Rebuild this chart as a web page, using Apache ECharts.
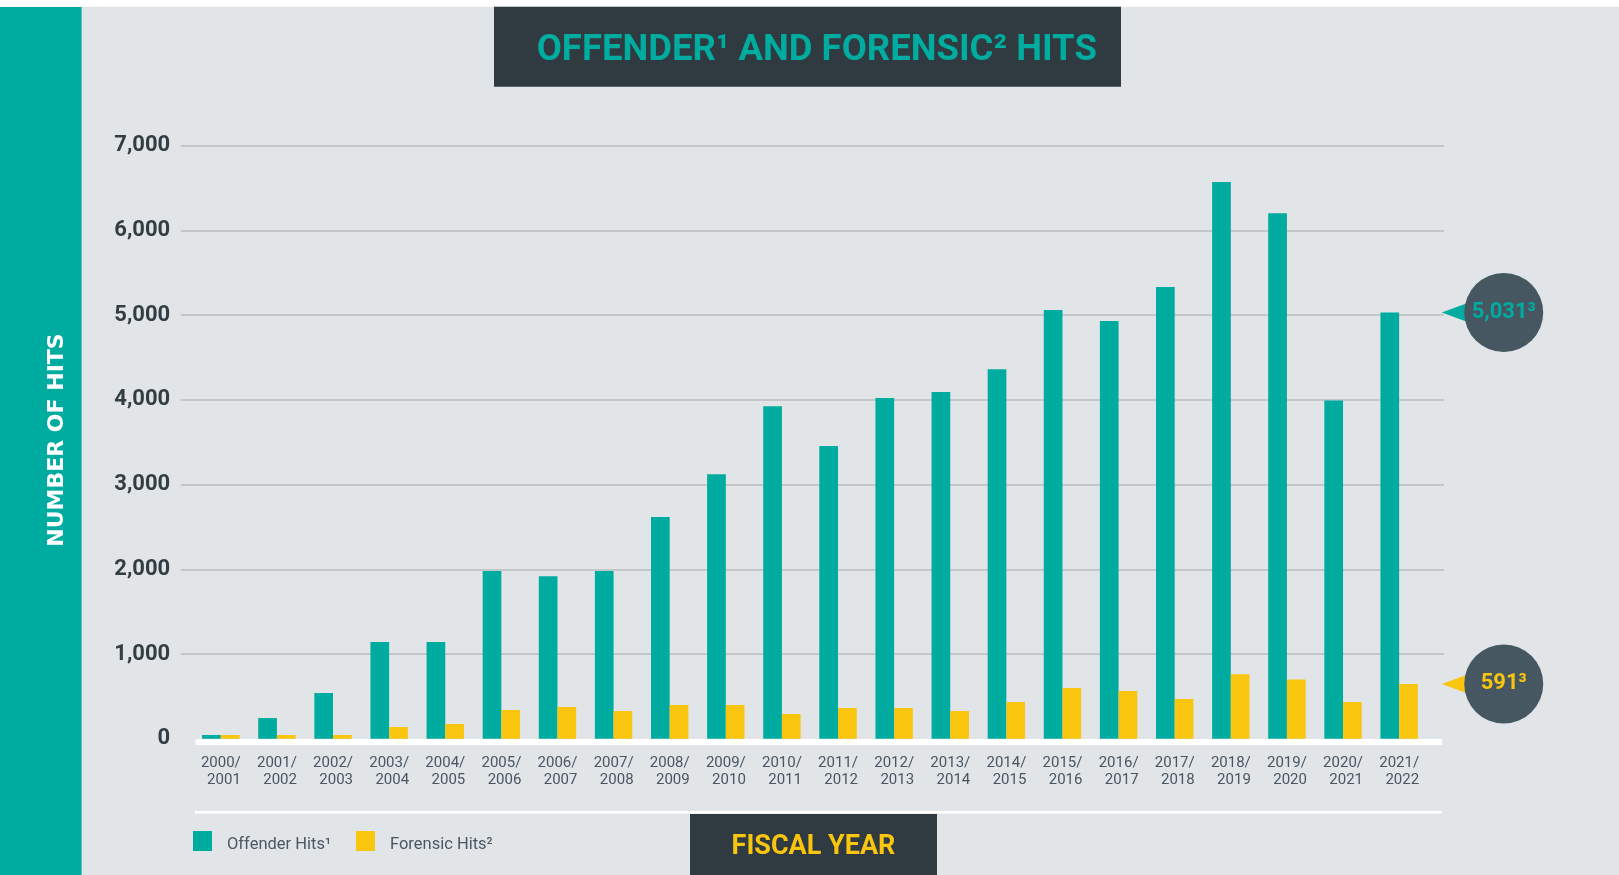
<!DOCTYPE html>
<html>
<head>
<meta charset="utf-8">
<script src="https://cdn.jsdelivr.net/npm/echarts@6/dist/echarts.min.js"></script>
<style>
html,body{margin:0;padding:0;background:#ffffff;}
#chart{width:1619px;height:875px;}
</style>
</head>
<body>
<div id="chart"></div>
<script>
// ---- data ----
const categories = ['2000/2001','2001/2002','2002/2003','2003/2004','2004/2005','2005/2006','2006/2007','2007/2008','2008/2009','2009/2010','2010/2011','2011/2012','2012/2013','2013/2014','2014/2015','2015/2016','2016/2017','2017/2018','2018/2019','2019/2020','2020/2021','2021/2022'];
const offenderHits = [45, 245, 540, 1142, 1142, 1980, 1918, 1980, 2618, 3122, 3924, 3456, 4022, 4093, 4361, 5061, 4931, 5332, 6571, 6202, 3992, 5031];
const forensicHits = [45, 45, 45, 139, 175, 340, 375, 328, 399, 399, 293, 363, 363, 328, 434, 600, 564, 470, 762, 701, 434, 647];
const yTickValues = [0, 1000, 2000, 3000, 4000, 5000, 6000, 7000];
const seriesNames = ['Offender Hits¹', 'Forensic Hits²'];
const calloutLabels = ['5,031³', '591³'];
const titleText = 'OFFENDER¹ AND FORENSIC² HITS';
const yAxisTitle = 'NUMBER OF HITS';
const xAxisTitle = 'FISCAL YEAR';

// ---- styles ----
const TEAL = '#00ab9f';
const YELLOW = '#f9c50f';
const DARK = '#2f3a41';
const BUBBLE = '#465762';
const BG = '#e1e5e8';
const GRID_TOP = 145.7;
const GRID_BOTTOM = 875 - 738.8;
const lastIdx = categories.length - 1;

const chart = echarts.init(document.getElementById('chart'), null, {renderer: 'canvas'});

const option = {
  backgroundColor: BG,
  animation: false,
  title: {
    text: titleText,
    left: 816.8,
    top: 32,
    padding: 0,
    textAlign: 'center',
    textStyle: {color: TEAL, fontFamily: 'Roboto', fontWeight: 'bold', fontSize: 36.5}
  },
  legend: {
    left: 193,
    top: 831,
    padding: 0,
    icon: 'rect',
    itemWidth: 19,
    itemHeight: 20,
    itemGap: 25,
    data: seriesNames,
    formatter: function (name) { return '{a|' + name + '}'; },
    textStyle: {
      fontFamily: 'Roboto', fontSize: 16.5, color: '#4b5763', padding: [0, 0, 0, 10],
      rich: {a: {fontFamily: 'Roboto', fontSize: 16.5, color: '#4b5763', padding: [8, 0, 0, 0]}}
    }
  },
  grid: [
    {left: 180.7, right: 175, top: GRID_TOP, bottom: GRID_BOTTOM},
    {left: 192.75, right: 191.8, top: GRID_TOP, bottom: GRID_BOTTOM}
  ],
  xAxis: [
    {gridIndex: 0, type: 'value', min: 0, max: 1, show: false},
    {
      gridIndex: 1, type: 'category', data: categories,
      axisLine: {show: false}, axisTick: {show: false}, splitLine: {show: false},
      axisLabel: {
        margin: 16,
        interval: 0,
        formatter: function (v) {
          const p = v.split('/');
          return '{a|' + p[0] + '/}\n{a|' + p[1] + '}';
        },
        rich: {
          a: {width: 40, align: 'right', fontFamily: 'Roboto', fontSize: 15, lineHeight: 17, color: '#4a5662'}
        }
      }
    }
  ],
  yAxis: [
    {
      gridIndex: 0, type: 'value', min: 0, max: 7000, interval: 1000,
      axisLine: {show: false}, axisTick: {show: false},
      splitLine: {lineStyle: {width: 1.5, color: ['rgba(0,0,0,0)', '#b9bcc0', '#b9bcc0', '#b9bcc0', '#b9bcc0', '#b9bcc0', '#b9bcc0', '#b9bcc0']}},
      axisLabel: {
        margin: 10.5,
        fontFamily: 'Roboto', fontWeight: 'bold', fontSize: 22, color: '#333d44',
        formatter: function (v) { return yTickValues.indexOf(v) >= 0 ? v.toLocaleString('en-US') : ''; }
      }
    },
    {gridIndex: 1, type: 'value', min: 0, max: 7000, interval: 1000, show: false}
  ],
  series: [
    {
      name: seriesNames[0], type: 'bar', xAxisIndex: 1, yAxisIndex: 1,
      data: offenderHits, barWidth: 18.7, barGap: '0%',
      itemStyle: {color: TEAL}
    },
    {
      name: seriesNames[1], type: 'bar', xAxisIndex: 1, yAxisIndex: 1,
      data: forensicHits, barWidth: 18.7, barGap: '0%',
      itemStyle: {color: YELLOW}
    },
    {
      type: 'scatter', xAxisIndex: 1, yAxisIndex: 1, z: 3, silent: true,
      symbol: 'path://M0,11L30,0L30,22Z', symbolSize: [30, 22], symbolOffset: [57.6, 0],
      data: [
        {value: [lastIdx, offenderHits[lastIdx]], itemStyle: {color: TEAL, opacity: 1}},
        {value: [lastIdx, forensicHits[lastIdx]], itemStyle: {color: YELLOW, opacity: 1}}
      ]
    },
    {
      type: 'scatter', xAxisIndex: 1, yAxisIndex: 1, z: 4, silent: true,
      symbol: 'circle', symbolSize: 79, symbolOffset: [104.6, 0],
      itemStyle: {color: BUBBLE, opacity: 1},
      label: {show: true, position: 'inside', fontFamily: 'Roboto', fontWeight: 'bold', fontSize: 22},
      data: [
        {value: [lastIdx, offenderHits[lastIdx]], label: {formatter: calloutLabels[0], color: TEAL}},
        {value: [lastIdx, forensicHits[lastIdx]], label: {formatter: calloutLabels[1], color: YELLOW}}
      ]
    }
  ],
  graphic: [
    {type: 'rect', z: 0, shape: {x: 0, y: 0, width: 1619, height: 6.7}, style: {fill: '#ffffff'}},
    {type: 'rect', z: 0, shape: {x: 0, y: 7, width: 81.6, height: 868}, style: {fill: TEAL}},
    {type: 'rect', z: 0, shape: {x: 494, y: 6.7, width: 627, height: 80}, style: {fill: DARK}},
    {type: 'rect', z: 0, shape: {x: 195.6, y: 739, width: 1246.4, height: 6}, style: {fill: '#ffffff'}},
    {type: 'rect', z: 0, shape: {x: 195, y: 811, width: 1247, height: 2.5}, style: {fill: '#ffffff'}},
    {type: 'rect', z: 0, shape: {x: 690, y: 814, width: 247, height: 61}, style: {fill: DARK}},
    {type: 'text', z: 1, x: 813.5, y: 847, style: {text: xAxisTitle, fill: YELLOW, font: 'bold 27px Roboto', align: 'center', verticalAlign: 'middle'}},
    {type: 'text', z: 1, x: 57, y: 440, rotation: Math.PI / 2, style: {text: yAxisTitle, fill: '#ffffff', font: 'bold 22px "DejaVu Sans"', align: 'center', verticalAlign: 'middle'}}
  ]
};
chart.setOption(option);
</script>
</body>
</html>
